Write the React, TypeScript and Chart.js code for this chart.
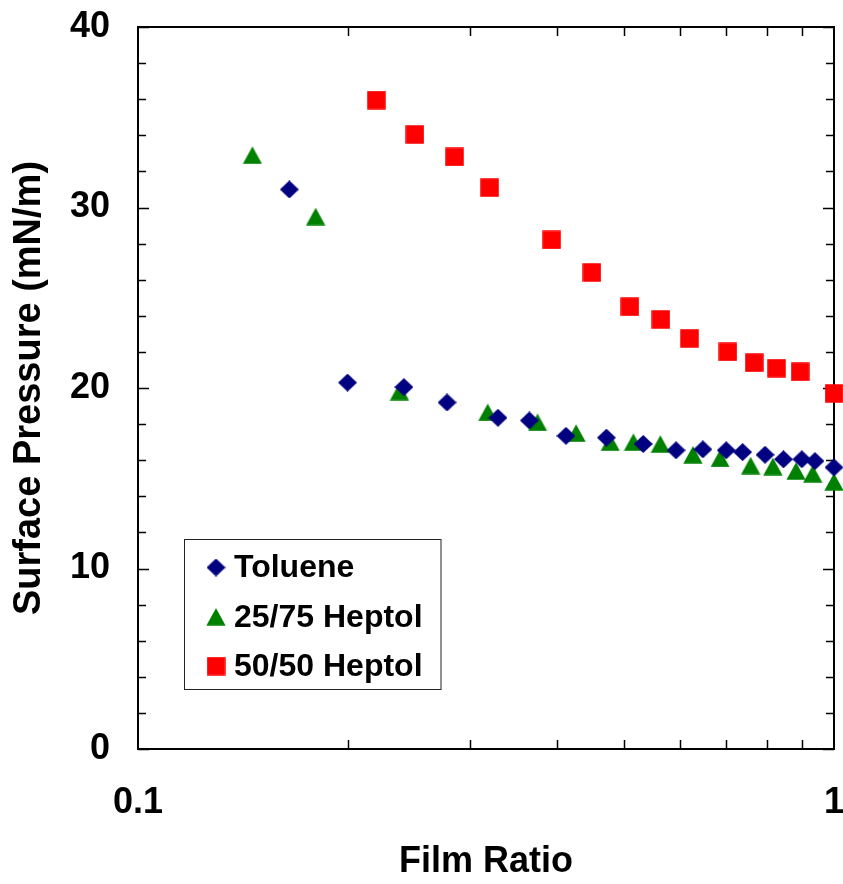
import { useEffect, useRef } from 'react';
import { Chart, registerables } from 'chart.js';

Chart.register(...registerables);

// ---- data ----
const tolueneX = [0.165, 0.2, 0.241, 0.278, 0.329, 0.365, 0.412, 0.471, 0.532, 0.593, 0.648, 0.7, 0.739, 0.796, 0.846, 0.899, 0.939, 1.0];
const tolueneY = [31.0, 20.3, 20.05, 19.2, 18.35, 18.2, 17.35, 17.25, 16.9, 16.55, 16.6, 16.55, 16.45, 16.3, 16.05, 16.05, 15.95, 15.6];

const heptol2575X = [0.146, 0.18, 0.2375, 0.318, 0.375, 0.426, 0.477, 0.515, 0.563, 0.627, 0.686, 0.759, 0.817, 0.882, 0.932, 1.0];
const heptol2575Y = [32.9, 29.5, 19.8, 18.65, 18.1, 17.5, 17.0, 17.0, 16.9, 16.3, 16.1, 15.7, 15.65, 15.4, 15.25, 14.8];

const heptol5050X = [0.22, 0.25, 0.285, 0.32, 0.393, 0.449, 0.509, 0.564, 0.62, 0.704, 0.768, 0.827, 0.894, 1.0];
const heptol5050Y = [35.95, 34.05, 32.8, 31.1, 28.2, 26.4, 24.5, 23.8, 22.75, 22.0, 21.4, 21.1, 20.9, 19.7];

const seriesLabels = ['Toluene', '25/75 Heptol', '50/50 Heptol'];
const xTickValues = [0.1, 1];
const xMinorTicks = [0.2, 0.3, 0.4, 0.5, 0.6, 0.7, 0.8, 0.9];
const yTickValues = [0, 10, 20, 30, 40];
const yMinorTicks = [2, 4, 6, 8, 12, 14, 16, 18, 22, 24, 26, 28, 32, 34, 36, 38];

const FONT = '"Liberation Sans", Arial, Helvetica, sans-serif';

function makeMarker(shape: string, color: string): HTMLCanvasElement {
  const c = document.createElement('canvas');
  const ctx = c.getContext('2d') as CanvasRenderingContext2D;
  if (shape === 'diamond') {
    c.width = 19; c.height = 18;
    ctx.fillStyle = color;
    ctx.beginPath();
    ctx.moveTo(9.5, 0); ctx.lineTo(19, 9); ctx.lineTo(9.5, 18); ctx.lineTo(0, 9);
    ctx.closePath(); ctx.fill();
  } else if (shape === 'triangle') {
    c.width = 20; c.height = 18;
    ctx.fillStyle = color;
    ctx.beginPath();
    ctx.moveTo(10, 0.3); ctx.lineTo(19.6, 17.7); ctx.lineTo(0.4, 17.7);
    ctx.closePath(); ctx.fill();
  } else {
    c.width = 19; c.height = 19;
    ctx.fillStyle = color;
    ctx.fillRect(0.25, 0.25, 18.5, 18.5);
  }
  return c;
}

export default function App() {
  const ref = useRef<HTMLCanvasElement | null>(null);

  useEffect(() => {
    if (!ref.current) return;
    const markers = [
      makeMarker('diamond', '#000080'),
      makeMarker('triangle', '#008000'),
      makeMarker('square', '#FF0000'),
    ];
    const colors = ['#000080', '#008000', '#FF0000'];
    const xs = [tolueneX, heptol2575X, heptol5050X];
    const ys = [tolueneY, heptol2575Y, heptol5050Y];

    const axesPlugin = {
      id: 'framedAxes',
      beforeDatasetsDraw(chart: any) {
        const { ctx, chartArea } = chart;
        const { left, right, top, bottom } = chartArea;
        const xs_ = chart.scales.x;
        const ys_ = chart.scales.y;
        ctx.save();
        ctx.strokeStyle = '#000';
        ctx.lineWidth = 1.5;
        ctx.beginPath();
        for (const v of [...yMinorTicks, ...yTickValues]) {
          const py = Math.round(ys_.getPixelForValue(v)) + 0.5;
          const len = v % 10 === 0 ? 11 : 8;
          ctx.moveTo(left, py); ctx.lineTo(left + len, py);
          ctx.moveTo(right, py); ctx.lineTo(right - len, py);
        }
        for (const v of xMinorTicks) {
          const px = Math.round(xs_.getPixelForValue(v)) + 0.5;
          ctx.moveTo(px, bottom); ctx.lineTo(px, bottom - 9);
          ctx.moveTo(px, top); ctx.lineTo(px, top + 9);
        }
        ctx.stroke();
        ctx.lineWidth = 2;
        ctx.strokeRect(left, top, right - left, bottom - top);
        ctx.restore();
      },
      afterDatasetsDraw(chart: any) {
        const { ctx } = chart;
        ctx.save();
        const bx = 184.5, by = 539.5, bw = 256.5, bh = 150;
        ctx.fillStyle = '#fff';
        ctx.fillRect(bx, by, bw, bh);
        ctx.strokeStyle = '#222';
        ctx.lineWidth = 1;
        ctx.strokeRect(bx, by, bw, bh);
        ctx.font = `bold 32px ${FONT}`;
        ctx.fillStyle = '#000';
        ctx.textBaseline = 'middle';
        ctx.textAlign = 'left';
        chart.data.datasets.forEach((ds: any, i: number) => {
          const cy = 567.5 + i * 49.3;
          const img = ds.pointStyle as HTMLCanvasElement;
          ctx.drawImage(img, 216 - img.width / 2, cy - img.height / 2);
          ctx.fillText(ds.label, 234, cy + 1);
        });
        ctx.restore();
      },
    };

    const chart = new Chart(ref.current, {
      type: 'scatter',
      data: {
        datasets: seriesLabels.map((label, i) => ({
          label,
          data: xs[i].map((x, j) => ({ x, y: ys[i][j] })),
          pointStyle: markers[i] as any,
          backgroundColor: colors[i],
          borderColor: colors[i],
          showLine: false,
          clip: false as any,
        })),
      },
      options: {
        animation: false,
        responsive: true,
        maintainAspectRatio: false,
        events: [],
        layout: { padding: { left: 0, top: 27, right: 9, bottom: 0 } },
        plugins: {
          legend: { display: false },
          tooltip: { enabled: false },
        },
        scales: {
          x: {
            type: 'logarithmic',
            position: 'bottom',
            min: 0.1,
            max: 1,
            grid: { display: false, drawTicks: false },
            border: { display: false },
            afterBuildTicks: (scale: any) => {
              scale.ticks = xTickValues.map((v) => ({ value: v }));
            },
            afterFit: (scale: any) => {
              scale.height = 135;
              scale.paddingLeft = 0;
              scale.paddingRight = 0;
            },
            ticks: {
              autoSkip: false,
              maxRotation: 0,
              padding: 32,
              color: '#000',
              font: { family: FONT, size: 36, weight: 'bold' },
              callback: (v: any) => String(v),
            },
            title: {
              display: true,
              text: 'Film Ratio',
              color: '#000',
              font: { family: FONT, size: 36, weight: 'bold' },
              padding: { top: 0, bottom: 0 },
            },
          },
          y: {
            type: 'linear',
            min: 0,
            max: 40,
            grid: { display: false, drawTicks: false },
            border: { display: false },
            afterFit: (scale: any) => {
              scale.width = 138;
              scale.paddingTop = 0;
              scale.paddingBottom = 0;
            },
            ticks: {
              stepSize: 10,
              padding: 28,
              color: '#000',
              font: { family: FONT, size: 36, weight: 'bold' },
            },
            title: {
              display: true,
              text: 'Surface Pressure (mN/m)',
              color: '#000',
              font: { family: FONT, size: 38, weight: 'bold' },
              padding: { top: 7, bottom: 0 },
            },
          },
        },
      } as any,
      plugins: [axesPlugin],
    });
    return () => chart.destroy();
  }, []);

  return (
    <div style={{ position: 'fixed', left: 0, top: 0, width: 843, height: 884, background: '#fff' }}>
      <canvas ref={ref} />
    </div>
  );
}
